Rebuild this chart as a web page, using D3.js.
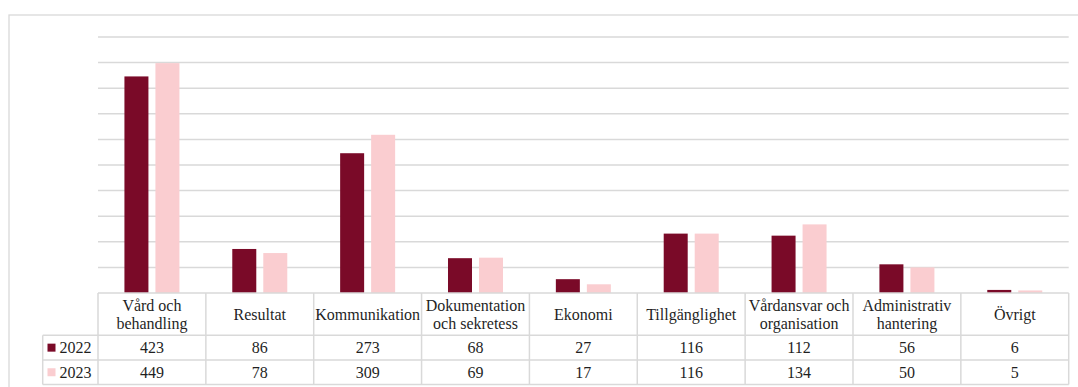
<!DOCTYPE html>
<html>
<head>
<meta charset="utf-8">
<script src="https://cdn.jsdelivr.net/npm/d3@7/dist/d3.min.js"></script>
<style>
  html, body { margin: 0; padding: 0; background: #fff; }
  svg { display: block; }
</style>
</head>
<body>
<svg id="chart" width="1078" height="387"></svg>
<script>
// Categories of complaints and yearly counts
const categories = [
  "Vård och behandling", "Resultat", "Kommunikation", "Dokumentation och sekretess",
  "Ekonomi", "Tillgänglighet", "Vårdansvar och organisation", "Administrativ hantering", "Övrigt"
];
const years = ["2022", "2023"];
const values2022 = [423, 86, 273, 68, 27, 116, 112, 56, 6];
const values2023 = [449, 78, 309, 69, 17, 116, 134, 50, 5];
const yTicks = [0, 50, 100, 150, 200, 250, 300, 350, 400, 450, 500];

const seriesValues = { "2022": values2022, "2023": values2023 };
const colors = { "2022": "#7a0a28", "2023": "#facdd0" };

const FONT = "'Liberation Serif', 'Times New Roman', serif";
const textColor = "#1f1f1f";

const svg = d3.select("#chart");
const W = 1078, H = 387;

// layout
const plotLeft = 98, plotRight = 1068.7;
const plotTop = 37, plotBottom = 293;
const headerBottom = 335.3, row1Bottom = 360, row2Bottom = 384.5;
const legendLeft = 42.7;
const gridColor = "#d9d9d9";

// outer chart frame (extends past the visible area at right and bottom)
svg.append("rect")
  .attr("x", 9).attr("y", 15)
  .attr("width", W + 20).attr("height", H + 20)
  .attr("fill", "none").attr("stroke", gridColor).attr("stroke-width", 1.3);

const x0 = d3.scaleBand().domain(categories).range([plotLeft, plotRight]).padding(0);
const groupWidth = 55;
const x1 = d3.scaleBand().domain(years).range([0, groupWidth]).paddingInner(0.226);
const y = d3.scaleLinear().domain([0, 500]).range([plotBottom, plotTop]);

// horizontal gridlines
svg.append("g")
  .selectAll("line")
  .data(yTicks.filter(t => t > 0))
  .join("line")
  .attr("x1", plotLeft).attr("x2", plotRight)
  .attr("y1", d => y(d)).attr("y2", d => y(d))
  .attr("stroke", gridColor).attr("stroke-width", 1.5);

// bars
const groups = svg.append("g")
  .selectAll("g")
  .data(categories)
  .join("g")
  .attr("transform", d => `translate(${x0(d) + (x0.bandwidth() - groupWidth) / 2},0)`);

groups.selectAll("rect")
  .data((d, i) => years.map(yr => ({ yr, v: seriesValues[yr][i] })))
  .join("rect")
  .attr("x", d => x1(d.yr))
  .attr("width", x1.bandwidth())
  .attr("y", d => y(d.v))
  .attr("height", d => y(0) - y(d.v))
  .attr("fill", d => colors[d.yr]);

// data table
const table = svg.append("g");
function hline(x1p, x2p, yp) {
  table.append("line").attr("x1", x1p).attr("x2", x2p).attr("y1", yp).attr("y2", yp)
    .attr("stroke", gridColor).attr("stroke-width", 1.5);
}
function vline(xp, y1p, y2p) {
  table.append("line").attr("x1", xp).attr("x2", xp).attr("y1", y1p).attr("y2", y2p)
    .attr("stroke", gridColor).attr("stroke-width", 1.5);
}
hline(plotLeft, plotRight, plotBottom);
hline(legendLeft, plotRight, headerBottom);
hline(legendLeft, plotRight, row1Bottom);
hline(legendLeft, plotRight, row2Bottom);
vline(legendLeft, headerBottom, row2Bottom);
categories.forEach(c => vline(x0(c), plotBottom, row2Bottom));
vline(plotRight, plotBottom, row2Bottom);

const fontSize = 16;
const lineH = 18;

function addText(parent) {
  return parent.append("text")
    .attr("font-family", FONT)
    .attr("font-size", fontSize)
    .attr("fill", textColor);
}

// category headers, wrapped to the column width
categories.forEach(c => {
  const cx = x0(c) + x0.bandwidth() / 2;
  const words = c.split(" ");
  const maxW = x0.bandwidth() - 2;
  const probe = addText(svg);
  const lines = [];
  let cur = [];
  words.forEach(w => {
    const test = cur.concat([w]).join(" ");
    probe.text(test);
    if (cur.length && probe.node().getComputedTextLength() > maxW) {
      lines.push(cur.join(" "));
      cur = [w];
    } else {
      cur.push(w);
    }
  });
  lines.push(cur.join(" "));
  probe.remove();
  const midY = (plotBottom + headerBottom) / 2;
  const firstY = midY - (lines.length - 1) * lineH / 2;
  const t = addText(table)
    .attr("text-anchor", "middle")
    .attr("dominant-baseline", "central");
  lines.forEach((ln, i) => {
    t.append("tspan").attr("x", cx).attr("y", firstY + i * lineH).text(ln);
  });
});

// value rows with legend keys
const rowMids = [(headerBottom + row1Bottom) / 2, (row1Bottom + row2Bottom) / 2];
years.forEach((yr, r) => {
  const my = rowMids[r];
  table.append("rect")
    .attr("x", 47.5).attr("y", my - 4).attr("width", 8).attr("height", 8)
    .attr("fill", colors[yr]);
  addText(table)
    .attr("x", 59.5).attr("y", my)
    .attr("dominant-baseline", "central")
    .text(yr);
  seriesValues[yr].forEach((v, i) => {
    addText(table)
      .attr("x", x0(categories[i]) + x0.bandwidth() / 2)
      .attr("y", my)
      .attr("text-anchor", "middle")
      .attr("dominant-baseline", "central")
      .text(v);
  });
});
</script>
</body>
</html>
